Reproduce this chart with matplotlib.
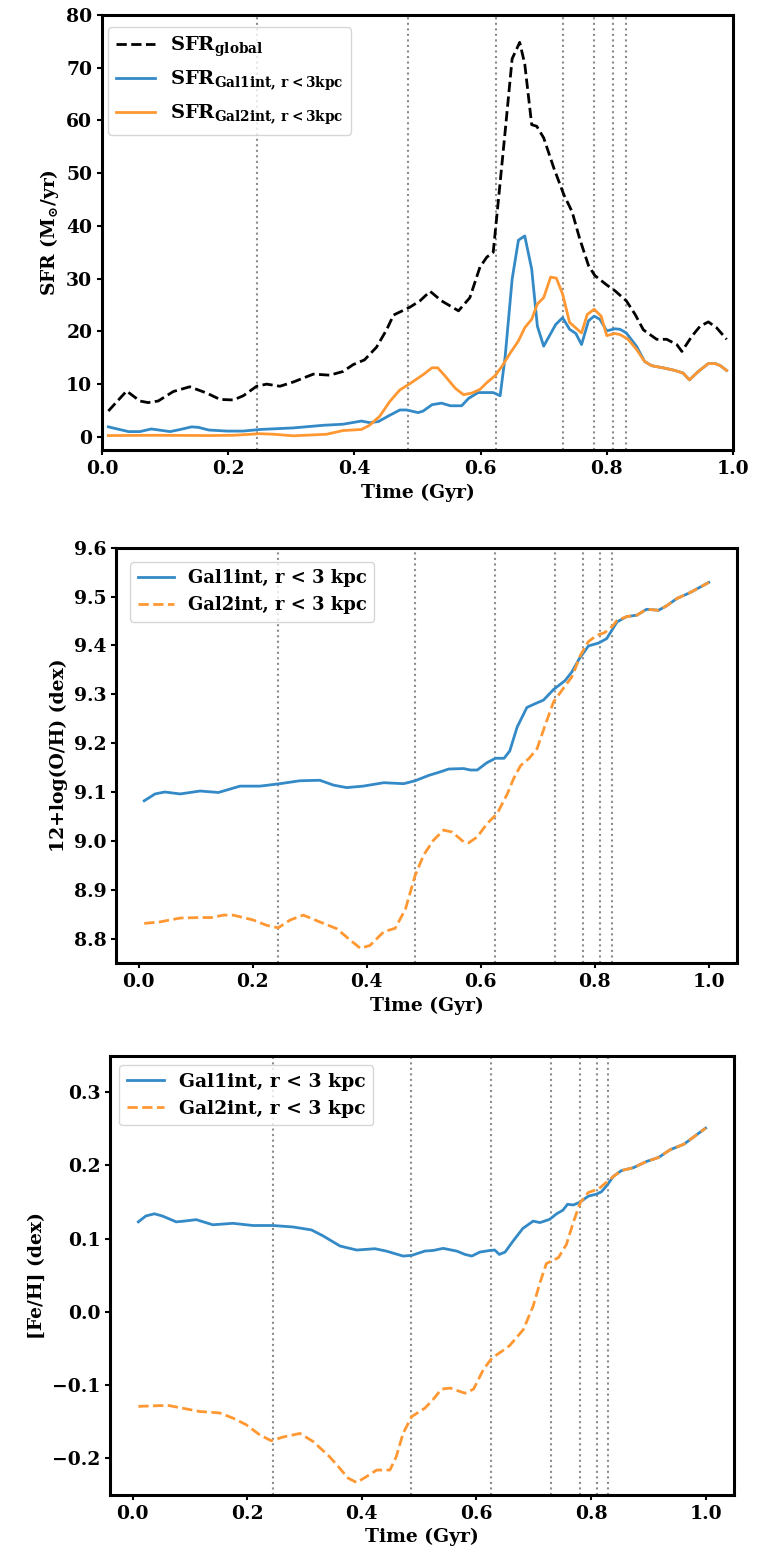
import matplotlib
matplotlib.use("Agg")
import matplotlib.pyplot as plt

# ---------------------------------------------------------------------------
# Data
# ---------------------------------------------------------------------------

VLINES = [0.245, 0.485, 0.625, 0.73, 0.78, 0.81, 0.83]

# panel 1: SFR (Msun/yr)
t_glob = [0.01, 0.039, 0.06, 0.073, 0.089, 0.113, 0.139, 0.166, 0.187, 0.208,
          0.224, 0.245, 0.261, 0.282, 0.303, 0.335, 0.361, 0.382, 0.398, 0.416,
          0.435, 0.451, 0.462, 0.488, 0.504, 0.520, 0.538, 0.565, 0.583, 0.599,
          0.610, 0.620, 0.628, 0.639, 0.650, 0.662, 0.670, 0.681, 0.689, 0.700,
          0.716, 0.732, 0.745, 0.757, 0.771, 0.781, 0.800, 0.813, 0.831, 0.845,
          0.858, 0.879, 0.895, 0.911, 0.919, 0.935, 0.948, 0.961, 0.974, 0.990]
sfr_glob = [4.9, 8.7, 6.8, 6.5, 6.8, 8.6, 9.5, 8.3, 7.1, 7.0,
            7.8, 9.6, 10.0, 9.6, 10.4, 11.9, 11.7, 12.4, 13.7, 14.6,
            17.0, 20.3, 23.1, 24.6, 25.8, 27.6, 25.8, 23.9, 26.4, 32.2,
            34.1, 35.0, 44.6, 58.0, 71.7, 74.8, 70.7, 59.2, 58.9, 56.7,
            51.0, 45.9, 42.7, 37.6, 32.5, 30.6, 28.8, 27.7, 25.8, 23.2,
            20.3, 18.5, 18.5, 17.5, 16.2, 19.1, 21.0, 21.8, 20.7, 18.5]

t_sfr1 = [0.01, 0.042, 0.06, 0.078, 0.108, 0.124, 0.142, 0.153, 0.169, 0.198,
          0.224, 0.25, 0.303, 0.351, 0.382, 0.411, 0.424, 0.438, 0.456, 0.472,
          0.483, 0.501, 0.509, 0.523, 0.538, 0.552, 0.570, 0.581, 0.596, 0.620,
          0.631, 0.639, 0.650, 0.660, 0.670, 0.681, 0.690, 0.700, 0.719, 0.730,
          0.741, 0.751, 0.760, 0.771, 0.780, 0.789, 0.800, 0.813, 0.821, 0.831,
          0.847, 0.860, 0.871, 0.889, 0.908, 0.921, 0.931, 0.945, 0.961, 0.972,
          0.980, 0.990]
sfr1 = [1.9, 1.0, 1.0, 1.5, 1.0, 1.4, 1.9, 1.8, 1.3, 1.1,
        1.1, 1.4, 1.7, 2.2, 2.4, 3.0, 2.7, 2.9, 4.1, 5.1,
        5.1, 4.6, 4.9, 6.1, 6.4, 5.9, 5.9, 7.3, 8.4, 8.4,
        7.8, 15.3, 29.9, 37.3, 38.1, 31.8, 21.0, 17.2, 21.3, 22.6,
        20.4, 19.6, 17.5, 22.0, 22.9, 22.3, 20.1, 20.5, 20.4, 19.7,
        17.2, 14.3, 13.5, 13.1, 12.6, 12.1, 10.8, 12.4, 13.9, 13.9,
        13.5, 12.6]

t_sfr2 = [0.01, 0.084, 0.17, 0.208, 0.25, 0.272, 0.303, 0.356, 0.382, 0.411,
          0.424, 0.44, 0.456, 0.472, 0.488, 0.509, 0.523, 0.532, 0.544, 0.560,
          0.573, 0.586, 0.599, 0.610, 0.623, 0.634, 0.647, 0.660, 0.670, 0.681,
          0.690, 0.700, 0.711, 0.720, 0.730, 0.741, 0.760, 0.769, 0.780, 0.791,
          0.800, 0.813, 0.821, 0.834, 0.847, 0.860, 0.871, 0.889, 0.908, 0.921,
          0.931, 0.945, 0.961, 0.972, 0.980, 0.990]
sfr2 = [0.25, 0.3, 0.25, 0.3, 0.6, 0.5, 0.2, 0.5, 1.2, 1.4,
        2.2, 3.9, 6.7, 8.9, 10.1, 11.8, 13.1, 13.1, 11.5, 9.2,
        8.0, 8.3, 9.0, 10.3, 11.6, 13.4, 15.9, 18.2, 20.7, 22.3,
        25.2, 26.4, 30.3, 30.1, 27.1, 21.7, 19.7, 23.2, 24.2, 22.9,
        19.2, 19.6, 19.4, 18.5, 16.6, 14.3, 13.5, 13.1, 12.6, 12.1,
        10.8, 12.4, 13.9, 13.9, 13.5, 12.6]

# panel 2: 12+log(O/H)
t_oh1 = [0.01, 0.029, 0.046, 0.073, 0.108, 0.14, 0.178, 0.213, 0.248, 0.283,
         0.318, 0.342, 0.365, 0.394, 0.43, 0.465, 0.485, 0.509, 0.526, 0.544,
         0.570, 0.582, 0.594, 0.611, 0.626, 0.641, 0.651, 0.664, 0.681, 0.696,
         0.710, 0.728, 0.748, 0.760, 0.773, 0.789, 0.807, 0.821, 0.839, 0.856,
         0.874, 0.891, 0.912, 0.926, 0.944, 0.967, 1.0]
oh1 = [9.082, 9.096, 9.100, 9.096, 9.102, 9.099, 9.112, 9.112, 9.117, 9.123,
       9.124, 9.114, 9.109, 9.112, 9.119, 9.117, 9.123, 9.134, 9.140, 9.147,
       9.148, 9.145, 9.145, 9.160, 9.169, 9.169, 9.184, 9.233, 9.273, 9.281,
       9.288, 9.310, 9.328, 9.346, 9.373, 9.399, 9.405, 9.414, 9.448, 9.459,
       9.462, 9.474, 9.472, 9.481, 9.496, 9.508, 9.529]

t_oh2 = [0.01, 0.037, 0.073, 0.108, 0.128, 0.149, 0.166, 0.201, 0.225, 0.245,
         0.266, 0.289, 0.318, 0.348, 0.368, 0.389, 0.406, 0.43, 0.45, 0.468,
         0.485, 0.500, 0.517, 0.535, 0.550, 0.570, 0.579, 0.594, 0.611, 0.629,
         0.647, 0.658, 0.670, 0.685, 0.699, 0.714, 0.728, 0.743, 0.760, 0.775,
         0.789, 0.804, 0.817, 0.830, 0.839, 0.856, 0.874, 0.891, 0.912, 0.926,
         0.944, 0.967, 1.0]
oh2 = [8.831, 8.834, 8.842, 8.843, 8.843, 8.848, 8.848, 8.838, 8.827, 8.822,
       8.838, 8.848, 8.834, 8.820, 8.800, 8.780, 8.786, 8.814, 8.821, 8.860,
       8.929, 8.971, 9.001, 9.022, 9.018, 8.998, 8.996, 9.008, 9.035, 9.056,
       9.097, 9.128, 9.154, 9.169, 9.189, 9.240, 9.285, 9.309, 9.336, 9.380,
       9.408, 9.421, 9.426, 9.438, 9.451, 9.459, 9.462, 9.474, 9.472, 9.481,
       9.496, 9.508, 9.529]

# panel 3: [Fe/H]
t_fe1 = [0.01, 0.023, 0.038, 0.052, 0.076, 0.090, 0.111, 0.140, 0.175, 0.210,
         0.245, 0.280, 0.312, 0.332, 0.362, 0.391, 0.423, 0.443, 0.472, 0.487,
         0.510, 0.525, 0.542, 0.566, 0.580, 0.592, 0.606, 0.624, 0.632, 0.640,
         0.650, 0.664, 0.681, 0.699, 0.711, 0.728, 0.740, 0.751, 0.759, 0.769,
         0.781, 0.795, 0.810, 0.818, 0.827, 0.839, 0.853, 0.874, 0.897, 0.918,
         0.938, 0.962, 1.0]
fe1 = [0.123, 0.131, 0.134, 0.131, 0.123, 0.124, 0.126, 0.119, 0.121, 0.118,
       0.118, 0.116, 0.112, 0.104, 0.090, 0.0845, 0.0863, 0.083, 0.0763, 0.0772,
       0.0831, 0.084, 0.0868, 0.083, 0.0785, 0.0763, 0.0817, 0.084, 0.0845, 0.0785,
       0.0817, 0.0968, 0.114, 0.124, 0.122, 0.1265, 0.134, 0.139, 0.147, 0.146,
       0.150, 0.158, 0.161, 0.164, 0.172, 0.185, 0.193, 0.197, 0.2055, 0.211,
       0.2215, 0.229, 0.251]

t_fe2 = [0.01, 0.047, 0.064, 0.087, 0.117, 0.152, 0.175, 0.198, 0.222, 0.242,
         0.262, 0.292, 0.315, 0.344, 0.362, 0.376, 0.391, 0.408, 0.426, 0.449,
         0.460, 0.472, 0.487, 0.510, 0.525, 0.539, 0.554, 0.580, 0.595, 0.612,
         0.627, 0.644, 0.658, 0.682, 0.699, 0.711, 0.722, 0.743, 0.757, 0.769,
         0.781, 0.795, 0.813, 0.827, 0.839, 0.853, 0.874, 0.897, 0.918, 0.938,
         0.962, 1.0]
fe2 = [-0.129, -0.128, -0.128, -0.1315, -0.136, -0.138, -0.145, -0.154, -0.168, -0.176,
       -0.171, -0.166, -0.177, -0.198, -0.214, -0.227, -0.233, -0.225, -0.216, -0.216,
       -0.198, -0.166, -0.143, -0.1315, -0.119, -0.1055, -0.104, -0.111, -0.1055, -0.079,
       -0.063, -0.054, -0.046, -0.024, 0.008, 0.040, 0.066, 0.074, 0.092, 0.122,
       0.149, 0.163, 0.168, 0.177, 0.185, 0.193, 0.197, 0.2055, 0.211, 0.2215,
       0.229, 0.251]

# ---------------------------------------------------------------------------
# Style
# ---------------------------------------------------------------------------

BLUE = "#338ac6"
ORANGE = "#ff9833"
VCOL = "#8c8c8c"

plt.rcParams.update({
    "font.family":       "serif",
    "font.serif":        ["DejaVu Serif"],
    "font.weight":       "bold",
    "font.size":         13,
    "axes.labelweight":  "bold",
    "axes.labelsize":    13.5,
    "axes.linewidth":    2.2,
    "xtick.labelsize":   13.5,
    "ytick.labelsize":   13.5,
    "xtick.major.width": 1.5,
    "ytick.major.width": 1.5,
    "mathtext.fontset":  "dejavuserif",
    "mathtext.default":  "bf",
})

fig = plt.figure(figsize=(7.8, 15.6), dpi=100)
ax1 = fig.add_axes([0.1308, 0.7115, 0.8089, 0.2789])
ax2 = fig.add_axes([0.1487, 0.3827, 0.7962, 0.2662])
ax3 = fig.add_axes([0.1410, 0.0417, 0.8000, 0.2816])


def vlines(ax):
    for v in VLINES:
        ax.axvline(v, color=VCOL, linestyle=":", linewidth=1.5, zorder=1)


# ---- panel 1 ----
vlines(ax1)
ax1.plot(t_glob, sfr_glob, color="black", linestyle="--", linewidth=2.0,
         label=r"$\mathbf{SFR_{global}}$", zorder=3)
ax1.plot(t_sfr1, sfr1, color=BLUE, linewidth=2.0,
         label=r"$\mathbf{SFR_{Gal1int,\,r<3kpc}}$", zorder=3)
ax1.plot(t_sfr2, sfr2, color=ORANGE, linewidth=2.0,
         label=r"$\mathbf{SFR_{Gal2int,\,r<3kpc}}$", zorder=3)
ax1.set_xlim(0, 1.0)
ax1.set_ylim(-2.5, 80)
ax1.set_xlabel("Time (Gyr)")
ax1.set_ylabel(r"SFR (M$_{\odot}$/yr)")
ax1.legend(loc="upper left", fontsize=14, borderaxespad=0.3,
           bbox_to_anchor=(0.0, 0.986))

# ---- panel 2 ----
vlines(ax2)
ax2.plot(t_oh1, oh1, color=BLUE, linewidth=2.0, label="Gal1int, r < 3 kpc", zorder=3)
ax2.plot(t_oh2, oh2, color=ORANGE, linewidth=2.0, linestyle="--",
         label="Gal2int, r < 3 kpc", zorder=3)
ax2.set_ylim(8.75, 9.6)
ax2.set_xlabel("Time (Gyr)")
ax2.set_ylabel("12+log(O/H) (dex)")
ax2.legend(loc="upper left", fontsize=13, borderaxespad=0.8)

# ---- panel 3 ----
vlines(ax3)
ax3.plot(t_fe1, fe1, color=BLUE, linewidth=2.0, label="Gal1int, r < 3 kpc", zorder=3)
ax3.plot(t_fe2, fe2, color=ORANGE, linewidth=2.0, linestyle="--",
         label="Gal2int, r < 3 kpc", zorder=3)
ax3.set_ylim(-0.25, 0.35)
ax3.set_xlabel("Time (Gyr)")
ax3.set_ylabel("[Fe/H] (dex)")
ax3.legend(loc="upper left", fontsize=13.5)

for ax in (ax2, ax3):
    ax.set_xticks([0.0, 0.2, 0.4, 0.6, 0.8, 1.0])

fig.savefig("out.png", dpi=100)
